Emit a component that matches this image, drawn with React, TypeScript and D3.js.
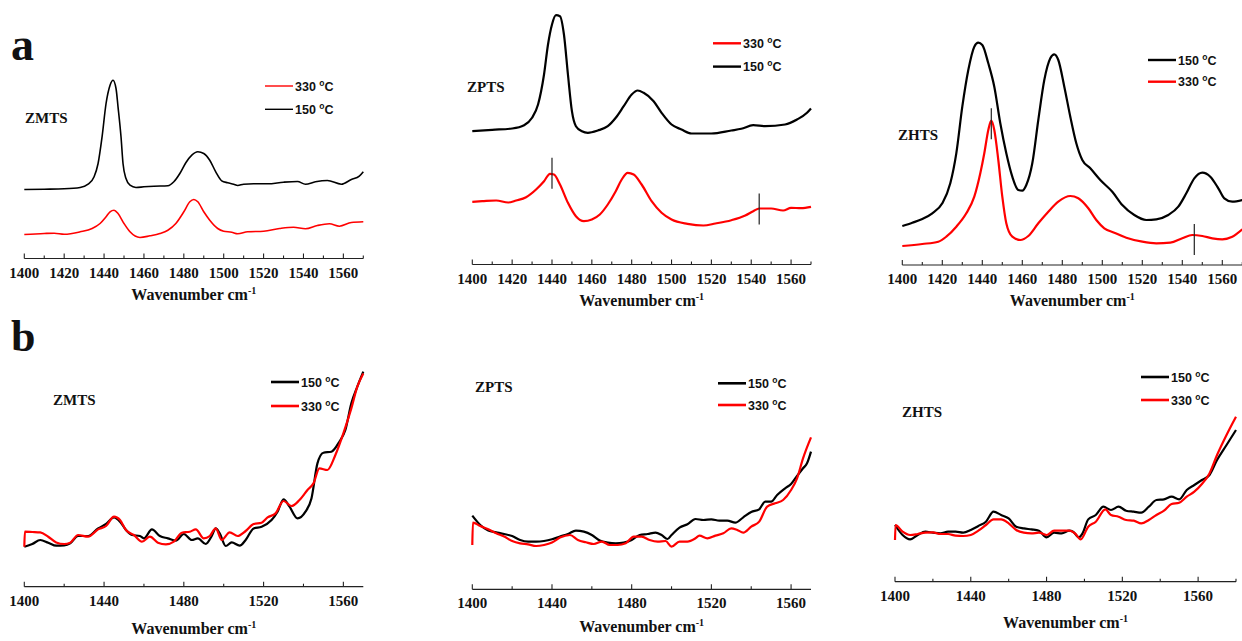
import * as d3 from "d3";
import React from "react";

type Pt = [number, number];

// wavenumber (cm-1), intensity (arb. units, pixels above the baseline axis)
const zmtsA150: Pt[] = [
  [1400, 69], [1410, 69.3], [1420, 69.7], [1428, 71], [1432, 74.3], [1435, 81.7], [1437, 95],
  [1439, 121.7], [1441, 155], [1443, 173.3], [1444.5, 178.3], [1446, 170], [1447, 151.7],
  [1448.5, 121.7], [1449.5, 95], [1451, 80], [1453, 73.3], [1456, 71], [1460, 71.7], [1465, 72.3],
  [1472, 72.7], [1475, 76.7], [1478, 85], [1481, 95.7], [1484, 103.3], [1487, 106.7], [1490, 105],
  [1493, 98.3], [1496, 86.7], [1499, 77.7], [1502, 75.7], [1505, 74.3], [1507, 73], [1510, 74.3],
  [1515, 74.7], [1522, 74.7], [1530, 76.3], [1537, 77], [1541, 74.3], [1546, 76.7], [1552, 78],
  [1559, 74.3], [1564, 79], [1568, 82.3], [1570, 86.7],
];
const zmtsA330: Pt[] = [
  [1400, 24], [1410, 25], [1415, 25.3], [1420, 24.3], [1428, 26.7], [1434, 30], [1438, 35],
  [1441, 41.7], [1443, 46.7], [1445, 48.3], [1447, 45], [1450, 35], [1453, 26.7], [1458, 21],
  [1463, 22.7], [1468, 25], [1472, 28.3], [1476, 35], [1480, 46.7], [1483, 56.7], [1485, 59],
  [1487, 56.7], [1490, 46.7], [1493, 38.3], [1497, 30], [1500, 27.3], [1504, 26.3], [1507, 24.7],
  [1512, 26.7], [1520, 27.3], [1528, 30], [1535, 31.3], [1541, 29.7], [1547, 33], [1553, 34.7],
  [1558, 32.3], [1564, 36], [1570, 36.7],
];
const zptsA150: Pt[] = [
  [1400, 133.3], [1410, 134.7], [1420, 136], [1426, 139.3], [1430, 146.7], [1433, 160], [1436, 190],
  [1438, 220], [1440, 240], [1442, 249.3], [1444, 248.3], [1446, 230], [1448, 190], [1450, 153.3],
  [1452, 138.3], [1455, 133.3], [1458, 131.7], [1463, 134], [1468, 138.3], [1472, 146.7],
  [1476, 158.3], [1480, 170], [1483, 174], [1486, 171.7], [1491, 163.3], [1495, 151.7], [1500, 140],
  [1505, 135], [1510, 131], [1520, 131], [1530, 134], [1535, 135.7], [1541, 139.3], [1547, 138.3],
  [1557, 140], [1563, 145], [1568, 151.7], [1570, 156],
];
const zptsA330: Pt[] = [
  [1400, 62.7], [1405, 63.3], [1412, 64], [1418, 62], [1422, 64], [1427, 67.3], [1432, 75],
  [1436, 83.3], [1439, 90.7], [1441, 90], [1444, 80], [1448, 61.7], [1452, 48.3], [1456, 43.3],
  [1460, 45], [1464, 50], [1468, 60], [1472, 73.3], [1475, 85], [1478, 91.7], [1481, 90], [1485, 80],
  [1490, 63.3], [1495, 51.7], [1500, 45], [1508, 40.7], [1516, 39], [1522, 41], [1530, 44.3],
  [1537, 49], [1541, 53.3], [1544, 56], [1550, 56], [1556, 54], [1560, 56.7], [1565, 56.3], [1570, 57.7],
];
const zhtsA150: Pt[] = [
  [1400, 39], [1405, 42.3], [1410, 46], [1415, 51.7], [1420, 61.7], [1424, 81.7], [1427, 111.7],
  [1430, 158.3], [1433, 195], [1436, 218.3], [1438, 222.3], [1440, 220], [1443, 201.7], [1446, 178.3],
  [1449, 141.7], [1452, 111.7], [1455, 88.3], [1458, 75], [1460, 74.3], [1462, 80], [1465, 101.7],
  [1468, 145], [1471, 185], [1474, 206.7], [1476, 210.7], [1478, 205], [1481, 178.3], [1484, 148.3],
  [1487, 121.7], [1490, 105], [1494, 96.7], [1499, 85], [1505, 73.3], [1510, 60], [1516, 50],
  [1522, 45], [1527, 45.7], [1533, 50], [1538, 58.3], [1542, 71.7], [1546, 86.7], [1550, 92.3],
  [1554, 88.3], [1558, 76.7], [1561, 66.7], [1565, 63.3], [1570, 65],
];
const zhtsA330: Pt[] = [
  [1400, 19], [1410, 21], [1418, 23.3], [1422, 28.3], [1427, 38.3], [1432, 51.7], [1436, 68.3],
  [1439, 91.7], [1441, 111.7], [1443, 135], [1444.5, 144.3], [1446, 135], [1448, 105], [1450, 68.3],
  [1452, 41.7], [1455, 28.3], [1459, 25], [1463, 29], [1468, 41.7], [1473, 53.3], [1478, 63.3],
  [1484, 69], [1488, 66.7], [1493, 56.7], [1497, 45], [1501, 36.7], [1506, 32.3], [1512, 27.3],
  [1520, 23.3], [1527, 21.7], [1534, 22.3], [1540, 26.7], [1545, 30], [1550, 29], [1555, 26.7],
  [1560, 25.7], [1565, 28.3], [1570, 35.7],
];

const zmtsB150: Pt[] = [
  [1400, 40], [1404, 42.7], [1408, 46.7], [1412, 44], [1416, 41], [1420, 41.3], [1423, 43.3],
  [1427, 50.7], [1432, 50.7], [1437, 58.3], [1441, 62.7], [1445, 69.3], [1448, 65], [1451, 56.7],
  [1454, 51.7], [1458, 50.7], [1460, 48.3], [1464, 57.3], [1468, 50.7], [1472, 48.3], [1476, 46],
  [1480, 52.7], [1484, 46.7], [1487, 48.3], [1491, 42.7], [1494, 50.7], [1496, 58.3], [1498, 53.3],
  [1501, 40.7], [1504, 44.3], [1508, 41], [1511, 46.7], [1515, 58.3], [1519, 60], [1524, 66.7],
  [1527, 75], [1530, 87.3], [1533, 80], [1537, 68.3], [1541, 75], [1544, 88.3], [1547, 123.3],
  [1550, 134], [1554, 135], [1558, 145], [1561, 156.7], [1564, 183.3], [1567, 200], [1570, 215],
];
const zmtsB330: Pt[] = [
  [1400, 40], [1400.3, 55], [1404, 54.7], [1408, 54.3], [1412, 50], [1416, 44.3], [1420, 42.7],
  [1423, 44], [1427, 51.7], [1432, 50], [1437, 57.3], [1441, 60.7], [1445, 70], [1448, 66.7],
  [1451, 56.7], [1455, 51.7], [1459, 45], [1463, 50], [1467, 44], [1471, 42.3], [1475, 45], [1479, 54],
  [1483, 55], [1486, 57.3], [1490, 48.3], [1493, 50.7], [1496, 58.3], [1499, 46.7], [1503, 54.3],
  [1507, 50.7], [1511, 55.7], [1515, 62.7], [1519, 64], [1522, 69.3], [1526, 73.3], [1530, 85.7],
  [1534, 80.7], [1538, 86.7], [1542, 96.7], [1545, 103.3], [1548, 118.3], [1552, 116.7],
  [1556, 131.7], [1560, 153.3], [1564, 178.3], [1567, 200], [1570, 213.3],
];
const zptsB150: Pt[] = [
  [1400, 73.7], [1404, 64.3], [1408, 58.7], [1412, 57], [1416, 55.3], [1420, 53.3], [1424, 49.3],
  [1428, 47.7], [1432, 47.7], [1436, 48.3], [1440, 50], [1444, 52.7], [1448, 55.3], [1452, 58.7],
  [1456, 57.7], [1460, 54.3], [1464, 48.7], [1468, 46.7], [1472, 46], [1476, 46.7], [1480, 49.3],
  [1484, 54.3], [1488, 55.3], [1492, 56.7], [1495, 54.3], [1498, 50.3], [1500, 54.3], [1504, 61.7],
  [1508, 65], [1512, 70.3], [1516, 69.3], [1520, 70], [1524, 68.7], [1528, 68.7], [1532, 66.7],
  [1536, 72], [1540, 77.3], [1544, 80], [1547, 87.7], [1550, 87.7], [1553, 94.3], [1557, 101],
  [1560, 105.3], [1563, 113.3], [1566, 121], [1568, 126], [1570, 137.7],
];
const zptsB330: Pt[] = [
  [1400, 44.3], [1400.3, 66.7], [1404, 63.3], [1408, 60], [1412, 56], [1416, 52.7], [1420, 48.3],
  [1424, 46], [1428, 45], [1432, 43.3], [1436, 44.3], [1440, 46.7], [1444, 51.7], [1449, 54.3],
  [1453, 49.3], [1457, 47], [1461, 45.3], [1465, 47.7], [1469, 44.3], [1473, 44.3], [1477, 46],
  [1481, 52.7], [1485, 52.7], [1489, 49.3], [1493, 47.7], [1497, 48.3], [1500, 42.7], [1504, 47.7],
  [1508, 47.7], [1512, 51], [1514, 53.7], [1518, 51], [1522, 53.7], [1526, 56], [1530, 61],
  [1533, 59.3], [1536, 56.7], [1540, 62.7], [1544, 67.7], [1548, 82.7], [1552, 86], [1556, 89.3],
  [1560, 99.3], [1563, 111], [1566, 131], [1570, 152],
];
const zhtsB150: Pt[] = [
  [1400, 56.7], [1404, 46.7], [1408, 42.3], [1412, 46.7], [1416, 50], [1420, 49], [1424, 48.3],
  [1428, 50], [1432, 50], [1436, 49], [1440, 51.7], [1444, 55.7], [1448, 60], [1452, 70], [1456, 66.7],
  [1460, 63.3], [1464, 55], [1468, 53.3], [1472, 52.3], [1476, 51], [1480, 44.3], [1484, 49],
  [1488, 48.3], [1492, 51], [1494, 50], [1497, 44.3], [1499, 48.3], [1502, 62.3], [1506, 66.7],
  [1510, 75], [1514, 71.7], [1518, 75], [1522, 71], [1526, 70], [1530, 69], [1534, 75], [1538, 81.7],
  [1542, 82.3], [1546, 85], [1550, 82.3], [1554, 91.7], [1558, 96.7], [1562, 101.7], [1566, 106.7],
  [1570, 121.7], [1575, 136.7], [1580, 151.7],
];
const zhtsB330: Pt[] = [
  [1400, 41.7], [1400.3, 56.7], [1404, 50], [1408, 46.7], [1412, 47.7], [1416, 49], [1420, 49.3],
  [1424, 47.7], [1428, 47.7], [1432, 46], [1436, 45.7], [1440, 46.7], [1444, 51], [1448, 56.7],
  [1452, 62.3], [1456, 62.3], [1460, 58.3], [1464, 51.7], [1468, 49], [1472, 48.3], [1476, 49],
  [1480, 46.7], [1484, 51], [1488, 51], [1492, 51], [1495, 48.3], [1498, 42.3], [1502, 55], [1506, 60],
  [1511, 72.3], [1514, 66.7], [1518, 65], [1522, 61.7], [1526, 61], [1530, 58.3], [1534, 61.7],
  [1538, 66.7], [1542, 71], [1546, 77.7], [1550, 79], [1554, 85], [1558, 90], [1562, 97.7],
  [1566, 108.3], [1570, 126.7], [1575, 146.7], [1580, 165],
];

// vertical marker bars: wavenumber, low, high
const zptsMarkers: [number, number, number][] = [[1440, 75.7, 106.7], [1544, 40, 71]];
const zhtsMarkers: [number, number, number][] = [[1444.5, 125.7, 156.7], [1546, 10, 41]];

const ticksA = [1400, 1420, 1440, 1460, 1480, 1500, 1520, 1540, 1560];
const ticksB = [1400, 1440, 1480, 1520, 1560];

const RED = "#ff0000";
const BLACK = "#000000";
const SERIF = "'Liberation Serif', 'Times New Roman', serif";
const SANS = "'Liberation Sans', Arial, sans-serif";

interface Series { data: Pt[]; color: string; label: string }
interface PanelCfg {
  name: string;
  nameX: number; nameY: number;
  x0: number; x1: number; domain: [number, number];
  axisY: number; tickLabels: number[]; minorStep: number;
  titleY: number;
  series: Series[]; // drawing order
  legend: Series[];
  legendX: number; legendY: number; legendGap: number;
  lw: number; legendLw: number;
  markers?: [number, number, number][];
}

const panels: PanelCfg[] = [
  {
    name: "ZMTS", nameX: 25, nameY: 123, x0: 24.3, x1: 363.3, domain: [1400, 1570], axisY: 258.5,
    tickLabels: ticksA, minorStep: 10, titleY: 300,
    series: [{ data: zmtsA150, color: BLACK, label: "150" }, { data: zmtsA330, color: RED, label: "330" }],
    legend: [{ data: zmtsA330, color: RED, label: "330" }, { data: zmtsA150, color: BLACK, label: "150" }],
    legendX: 265, legendY: 86, legendGap: 23.3, lw: 1.6, legendLw: 1.4,
  },
  {
    name: "ZPTS", nameX: 467, nameY: 92, x0: 472.3, x1: 811, domain: [1400, 1570], axisY: 264.5,
    tickLabels: ticksA, minorStep: 10, titleY: 306,
    series: [{ data: zptsA150, color: BLACK, label: "150" }, { data: zptsA330, color: RED, label: "330" }],
    legend: [{ data: zptsA330, color: RED, label: "330" }, { data: zptsA150, color: BLACK, label: "150" }],
    legendX: 713, legendY: 43.3, legendGap: 23.3, lw: 2.2, legendLw: 2.4, markers: zptsMarkers,
  },
  {
    name: "ZHTS", nameX: 898, nameY: 140, x0: 902.3, x1: 1242.3, domain: [1400, 1570], axisY: 265,
    tickLabels: ticksA, minorStep: 10, titleY: 306,
    series: [{ data: zhtsA150, color: BLACK, label: "150" }, { data: zhtsA330, color: RED, label: "330" }],
    legend: [{ data: zhtsA150, color: BLACK, label: "150" }, { data: zhtsA330, color: RED, label: "330" }],
    legendX: 1148, legendY: 60, legendGap: 21.7, lw: 2.2, legendLw: 2.4, markers: zhtsMarkers,
  },
  {
    name: "ZMTS", nameX: 53, nameY: 405, x0: 24.3, x1: 363.3, domain: [1400, 1570], axisY: 586.7,
    tickLabels: ticksB, minorStep: 20, titleY: 634,
    series: [{ data: zmtsB150, color: BLACK, label: "150" }, { data: zmtsB330, color: RED, label: "330" }],
    legend: [{ data: zmtsB150, color: BLACK, label: "150" }, { data: zmtsB330, color: RED, label: "330" }],
    legendX: 271, legendY: 382, legendGap: 24, lw: 2.2, legendLw: 2.6,
  },
  {
    name: "ZPTS", nameX: 475, nameY: 392, x0: 472.3, x1: 811, domain: [1400, 1570], axisY: 589.3,
    tickLabels: ticksB, minorStep: 20, titleY: 632,
    series: [{ data: zptsB150, color: BLACK, label: "150" }, { data: zptsB330, color: RED, label: "330" }],
    legend: [{ data: zptsB150, color: BLACK, label: "150" }, { data: zptsB330, color: RED, label: "330" }],
    legendX: 718, legendY: 383.3, legendGap: 21.7, lw: 2.2, legendLw: 2.6,
  },
  {
    name: "ZHTS", nameX: 902, nameY: 417, x0: 895, x1: 1236, domain: [1400, 1580], axisY: 581.7,
    tickLabels: ticksB, minorStep: 20, titleY: 628,
    series: [{ data: zhtsB150, color: BLACK, label: "150" }, { data: zhtsB330, color: RED, label: "330" }],
    legend: [{ data: zhtsB150, color: BLACK, label: "150" }, { data: zhtsB330, color: RED, label: "330" }],
    legendX: 1141, legendY: 377, legendGap: 23, lw: 2.2, legendLw: 2.6,
  },
];

const Panel: React.FC<{ p: PanelCfg }> = ({ p }) => {
  const x = d3.scaleLinear().domain(p.domain).range([p.x0, p.x1]);
  const y = d3.scaleLinear().domain([0, 300]).range([p.axisY, p.axisY - 300]);
  const line = d3.line<Pt>().x((d) => x(d[0])).y((d) => y(d[1])).curve(d3.curveMonotoneX);
  const minor = d3.range(p.domain[0], p.domain[1] + 0.01, p.minorStep);
  const cx = (p.x0 + p.x1) / 2;

  return (
    <g>
      {p.series.map((s, i) => (
        <path key={i} d={line(s.data) || ""} fill="none" stroke={s.color} strokeWidth={p.lw} strokeLinejoin="round" />
      ))}
      {(p.markers || []).map((m, i) => (
        <line key={"m" + i} x1={x(m[0])} x2={x(m[0])} y1={y(m[1])} y2={y(m[2])} stroke="#222" strokeWidth={1.2} />
      ))}
      {/* x axis */}
      <line x1={p.x0} x2={p.x1} y1={p.axisY} y2={p.axisY} stroke="#222" strokeWidth={1.2} />
      {minor.map((t) => {
        const major = p.tickLabels.includes(t);
        return (
          <line key={"t" + t} x1={x(t)} x2={x(t)} y1={p.axisY} y2={p.axisY - (major ? 5 : 3)} stroke="#222" strokeWidth={1.1} />
        );
      })}
      {p.tickLabels.map((t) => (
        <text key={"l" + t} x={x(t)} y={p.axisY + 19} textAnchor="middle" fontFamily={SERIF} fontWeight="bold" fontSize={15} fill="#111">
          {t}
        </text>
      ))}
      <text x={cx} y={p.titleY} textAnchor="middle" fontFamily={SERIF} fontWeight="bold" fontSize={16} fill="#111">
        Wavenumber cm<tspan dy={-6} fontSize={10}>-1</tspan>
      </text>
      <text x={p.nameX} y={p.nameY} fontFamily={SERIF} fontWeight="bold" fontSize={15} fill="#111">
        {p.name}
      </text>
      {p.legend.map((s, i) => {
        const ly = p.legendY + i * p.legendGap;
        return (
          <g key={"lg" + i}>
            <line x1={p.legendX} x2={p.legendX + 28} y1={ly} y2={ly} stroke={s.color} strokeWidth={p.legendLw} />
            <text x={p.legendX + 30} y={ly + 4.5} fontFamily={SANS} fontWeight="bold" fontSize={12.5} fill="#111">
              {s.label} <tspan dy={-5} fontSize={8.5}>o</tspan><tspan dy={5}>C</tspan>
            </text>
          </g>
        );
      })}
    </g>
  );
};

export default function App() {
  return (
    <svg width={1242} height={641} viewBox="0 0 1242 641" style={{ position: "absolute", left: 0, top: 0, background: "#fff" }}>
      <rect width={1242} height={641} fill="#fff" />
      <text x={11} y={60} fontFamily={SERIF} fontWeight="bold" fontSize={46} fill="#111">a</text>
      <text x={11} y={351} fontFamily={SERIF} fontWeight="bold" fontSize={44} fill="#111">b</text>
      {panels.map((p, i) => (
        <Panel key={i} p={p} />
      ))}
    </svg>
  );
}
